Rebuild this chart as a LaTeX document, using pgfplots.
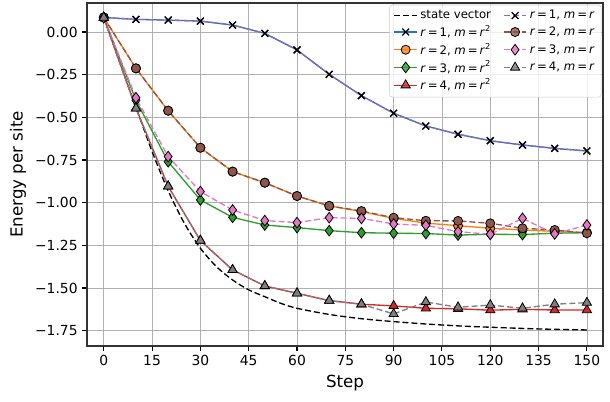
\documentclass[border=0pt]{standalone}
\usepackage{pgfplots}
\pgfplotsset{compat=1.18}
\usepackage{fontspec}
\setmainfont{DejaVu Sans}
\definecolor{tblue}{HTML}{1F77B4}
\definecolor{torange}{HTML}{FF7F0E}
\definecolor{tgreen}{HTML}{2CA02C}
\definecolor{tred}{HTML}{D62728}
\definecolor{tpurple}{HTML}{9467BD}
\definecolor{tbrown}{HTML}{8C564B}
\definecolor{tpink}{HTML}{E377C2}
\definecolor{tgray}{HTML}{7F7F7F}
\definecolor{gridc}{HTML}{B0B0B0}
\newcommand{\lab}[2]{\textit{r}\,=\,#1, \textit{m}\,=\,#2}
\pgfplotsset{
  mX/.style={mark=x, mark size=3.6pt, mark options={black, line width=0.9pt, solid}},
  mO/.style={mark=*, mark size=3.4pt, mark options={fill=#1, draw=black, line width=0.6pt, solid}},
  mD/.style={mark=diamond*, mark size=4pt, mark options={fill=#1, draw=black, line width=0.6pt, solid}},
  mT/.style={mark=triangle*, mark size=4pt, mark options={fill=#1, draw=black, line width=0.6pt, solid}},
  dsh/.style={dash pattern=on 4.5pt off 2.2pt},
}
\begin{document}
\begin{tikzpicture}
\begin{axis}[
  at={(0,0)}, anchor=south west,
  scale only axis, width=387pt, height=257.25pt,
  xmin=-5.2, xmax=155, ymin=-1.84, ymax=0.17,
  xtick={0,15,...,150},
  ytick={-1.75,-1.5,-1.25,-1,-0.75,-0.5,-0.25,0},
  yticklabels={−1.75,−1.50,−1.25,−1.00,−0.75,−0.50,−0.25,0.00},
  /pgf/number format/assume math mode=true,
  tick label style={font=\fontsize{10.4}{12}\selectfont},
  label style={font=\fontsize{12.5}{14}\selectfont},
  xlabel={Step}, ylabel={Energy per site},
  grid=major, major grid style={gridc, line width=0.6pt},
  tick pos=left, tick align=outside, major tick length=3.5pt,
  tick style={black, line width=0.8pt},
  axis line style={line width=0.8pt, black!80},
  legend columns=2,
  legend cell align=left,
  legend style={at={(0.997,0.995)}, anchor=north east, draw=black!20, rounded corners=2pt,
    fill=white, fill opacity=0.8, text opacity=1,
    font=\fontsize{8.8}{10}\selectfont, row sep=-0.6pt,
    /tikz/every even column/.append style={column sep=7pt}},
  every axis plot/.append style={line width=1pt},
]
% state vector
\addplot[black, dsh, smooth, forget plot] coordinates {
(0,0.085)(5,-0.18)(10,-0.44)(15,-0.70)(20,-0.93)(25,-1.12)(30,-1.267)(35,-1.375)(40,-1.453)(45,-1.511)(50,-1.551)(55,-1.590)(60,-1.619)(70,-1.655)(80,-1.680)(90,-1.697)(100,-1.711)(110,-1.722)(120,-1.730)(135,-1.740)(150,-1.746)};
% m = r^2
\addplot[tblue, mX, forget plot] coordinates {
(0,0.085)(10,0.074)(20,0.070)(30,0.064)(40,0.041)(50,-0.008)(60,-0.105)(70,-0.248)(80,-0.373)(90,-0.476)(100,-0.551)(110,-0.599)(120,-0.637)(130,-0.662)(140,-0.682)(150,-0.697)};
\addplot[torange, mO=torange, forget plot] coordinates {
(0,0.085)(10,-0.213)(20,-0.461)(30,-0.678)(40,-0.818)(50,-0.883)(60,-0.961)(70,-1.019)(80,-1.052)(90,-1.092)(100,-1.120)(110,-1.135)(120,-1.150)(130,-1.160)(140,-1.168)(150,-1.175)};
\addplot[tgreen, mD=tgreen, forget plot] coordinates {
(0,0.085)(10,-0.40)(20,-0.760)(30,-0.984)(40,-1.086)(50,-1.131)(60,-1.146)(70,-1.164)(80,-1.176)(90,-1.179)(100,-1.181)(110,-1.190)(120,-1.185)(130,-1.187)(140,-1.179)(150,-1.176)};
\addplot[tred, mT=tred, forget plot] coordinates {
(0,0.085)(10,-0.447)(20,-0.904)(30,-1.222)(40,-1.394)(50,-1.488)(60,-1.531)(70,-1.574)(80,-1.595)(90,-1.605)(100,-1.619)(110,-1.622)(120,-1.630)(130,-1.625)(140,-1.629)(150,-1.629)};
% m = r
\addplot[tpurple, dsh, mX, forget plot] coordinates {
(0,0.085)(10,0.074)(20,0.070)(30,0.064)(40,0.041)(50,-0.008)(60,-0.105)(70,-0.248)(80,-0.373)(90,-0.476)(100,-0.551)(110,-0.599)(120,-0.637)(130,-0.662)(140,-0.682)(150,-0.697)};
\addplot[tbrown, dsh, mO=tbrown, forget plot] coordinates {
(0,0.085)(10,-0.213)(20,-0.461)(30,-0.678)(40,-0.818)(50,-0.883)(60,-0.961)(70,-1.019)(80,-1.049)(90,-1.088)(100,-1.106)(110,-1.107)(120,-1.121)(130,-1.150)(140,-1.160)(150,-1.179)};
\addplot[tpink, dsh, mD=tpink, forget plot] coordinates {
(0,0.085)(10,-0.385)(20,-0.730)(30,-0.935)(40,-1.043)(50,-1.105)(60,-1.117)(70,-1.088)(80,-1.092)(90,-1.125)(100,-1.133)(110,-1.170)(120,-1.185)(130,-1.092)(140,-1.183)(150,-1.131)};
\addplot[tgray, dsh, mT=tgray, forget plot] coordinates {
(0,0.085)(10,-0.447)(20,-0.904)(30,-1.222)(40,-1.394)(50,-1.488)(60,-1.531)(70,-1.574)(80,-1.595)(90,-1.652)(100,-1.582)(110,-1.613)(120,-1.600)(130,-1.619)(140,-1.595)(150,-1.586)};
% legend (row-wise)
\addlegendimage{black, line width=1pt, dsh}
\addlegendentry{state vector}
\addlegendimage{tpurple, line width=1pt, dsh, mX}
\addlegendentry{\lab{1}{\textit{r}}}
\addlegendimage{tblue, line width=1pt, mX}
\addlegendentry{\lab{1}{\textit{r}\textsuperscript{2}}}
\addlegendimage{tbrown, line width=1pt, dsh, mO=tbrown}
\addlegendentry{\lab{2}{\textit{r}}}
\addlegendimage{torange, line width=1pt, mO=torange}
\addlegendentry{\lab{2}{\textit{r}\textsuperscript{2}}}
\addlegendimage{tpink, line width=1pt, dsh, mD=tpink}
\addlegendentry{\lab{3}{\textit{r}}}
\addlegendimage{tgreen, line width=1pt, mD=tgreen}
\addlegendentry{\lab{3}{\textit{r}\textsuperscript{2}}}
\addlegendimage{tgray, line width=1pt, dsh, mT=tgray}
\addlegendentry{\lab{4}{\textit{r}}}
\addlegendimage{tred, line width=1pt, mT=tred}
\addlegendentry{\lab{4}{\textit{r}\textsuperscript{2}}}
\end{axis}
\path (-65.25pt,-41.25pt) rectangle (392.25pt,259.5pt);
\end{tikzpicture}
\end{document}
